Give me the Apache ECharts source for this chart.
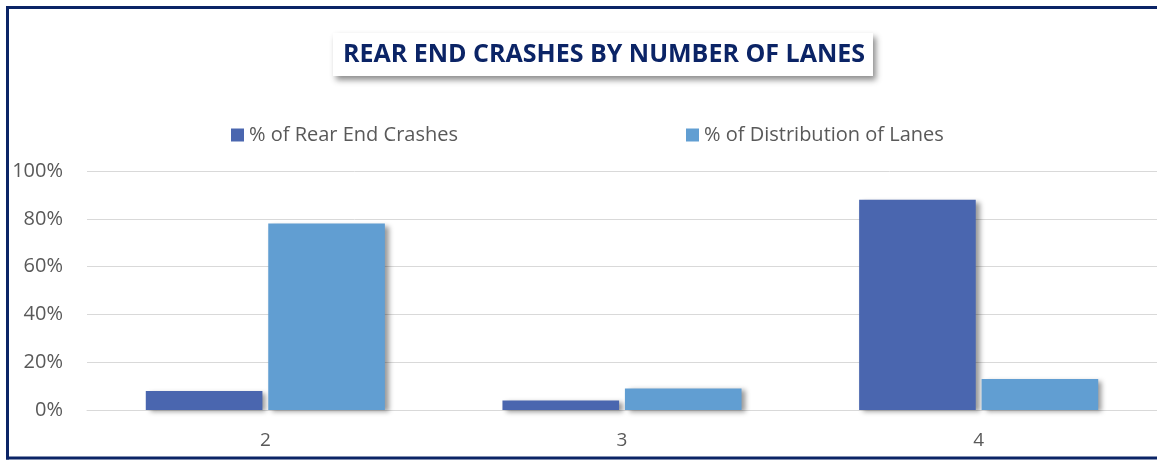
<!DOCTYPE html>
<html>
<head>
<meta charset="utf-8">
<script src="https://cdn.jsdelivr.net/npm/echarts@6/dist/echarts.min.js"></script>
<style>
html,body{margin:0;padding:0;background:#fff;overflow:hidden;}
#chart{width:1157px;height:460px;}
</style>
</head>
<body>
<div id="chart"></div>
<script>
const categories = ['2', '3', '4'];
const rearEndCrashes = [8, 4, 88];
const laneDistribution = [78, 9, 13];
const seriesNames = ['% of Rear End Crashes', '% of Distribution of Lanes'];
const yTicks = [0, 20, 40, 60, 80, 100];

const chart = echarts.init(document.getElementById('chart'));
const font = 'Open Sans';
const barShadow = {shadowColor: 'rgba(0,0,0,0.4)', shadowBlur: 5, shadowOffsetX: 4, shadowOffsetY: 2};
const borderStyle = {stroke: '#0B2466', lineWidth: 3};

chart.setOption({
  animation: false,
  backgroundColor: '#fff',
  graphic: [
    {type: 'line', silent: true, z: 100, shape: {x1: 6, y1: 7.5, x2: 1157, y2: 7.5}, style: borderStyle},
    {type: 'line', silent: true, z: 100, shape: {x1: 7.5, y1: 6, x2: 7.5, y2: 459.5}, style: borderStyle},
    {type: 'line', silent: true, z: 100, shape: {x1: 6, y1: 458, x2: 1157, y2: 458}, style: borderStyle}
  ],
  title: {
    text: 'REAR END CRASHES BY NUMBER OF LANES',
    left: 333, top: 33,
    padding: [9, 8, 9, 10],
    backgroundColor: '#fff',
    shadowColor: 'rgba(0,0,0,0.45)', shadowBlur: 6, shadowOffsetX: 3, shadowOffsetY: 4,
    textStyle: {fontFamily: font, fontWeight: 'bold', fontSize: 25, color: '#0B2466'}
  },
  legend: [{
    data: [seriesNames[0]], left: 226, top: 120,
    itemWidth: 13, itemHeight: 13, icon: 'rect', itemGap: 5,
    textStyle: {fontFamily: font, fontSize: 20, color: '#595959'}
  }, {
    data: [seriesNames[1]], left: 681, top: 120,
    itemWidth: 13, itemHeight: 13, icon: 'rect',
    textStyle: {fontFamily: font, fontSize: 20, color: '#595959'}
  }],
  grid: {left: 87, right: -2, top: 171, bottom: 50, containLabel: false},
  xAxis: {
    type: 'category', data: categories,
    axisLine: {show: true, lineStyle: {color: '#d9d9d9', width: 1}},
    axisTick: {show: false},
    axisLabel: {fontFamily: font, fontSize: 19, color: '#595959', margin: 21}
  },
  yAxis: {
    type: 'value', min: 0, max: 100, interval: 20,
    axisLine: {show: false}, axisTick: {show: false},
    splitLine: {lineStyle: {color: '#d9d9d9', width: 1}},
    axisLabel: {fontFamily: font, fontSize: 20, color: '#595959', margin: 24,
      formatter: v => yTicks.includes(v) ? v + '%' : ''}
  },
  series: [{
    name: seriesNames[0], type: 'bar', data: rearEndCrashes,
    barWidth: '32.7%', barGap: '5%',
    itemStyle: Object.assign({color: '#4A66AF'}, barShadow)
  }, {
    name: seriesNames[1], type: 'bar', data: laneDistribution,
    barWidth: '32.7%', barGap: '5%',
    itemStyle: Object.assign({color: '#619ED2'}, barShadow)
  }]
});
</script>
</body>
</html>
